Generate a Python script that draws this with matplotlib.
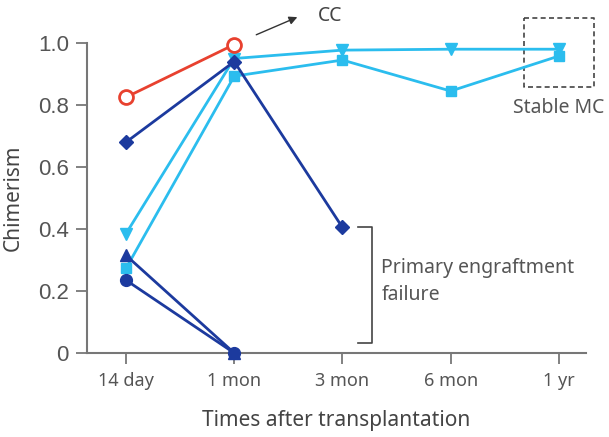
import matplotlib
matplotlib.use("Agg")
import matplotlib.pyplot as plt

plt.rcParams['font.family'] = ['Noto Sans', 'DejaVu Sans']

# time points
times = ["14 day", "1 mon", "3 mon", "6 mon", "1 yr"]

# chimerism per patient (series stop where follow-up ends)
cc_circle = [0.825, 0.995]
navy_diamond = [0.68, 0.94, 0.405]
navy_triangle = [0.315, 0.0]
navy_circle = [0.235, 0.0]
cyan_tri_down = [0.385, 0.95, 0.977, 0.98, 0.98]
cyan_square = [0.273, 0.893, 0.945, 0.845, 0.958]

RED = "#e8412f"
NAVY = "#1c3a9e"
CYAN = "#2bbdee"
GRAY = "#555555"
AXIS = "#777777"

fig = plt.figure(figsize=(6.09, 4.37), dpi=100)
ax = fig.add_axes([0.1429, 0.1922, 0.8193, 0.7094])

def xs(vals):
    return list(range(len(vals)))

kw = dict(lw=2, clip_on=False)
ax.plot(xs(cyan_tri_down), cyan_tri_down, color=CYAN, marker="v", ms=8, zorder=3, **kw)
ax.plot(xs(cyan_square), cyan_square, color=CYAN, marker="s", ms=7, zorder=3, **kw)
ax.plot(xs(navy_triangle), navy_triangle, color=NAVY, marker="^", ms=8, zorder=4, **kw)
ax.plot(xs(navy_circle), navy_circle, color=NAVY, marker="o", ms=8.5, zorder=4, **kw)
ax.plot(xs(navy_diamond), navy_diamond, color=NAVY, marker="D", ms=7, zorder=4, **kw)
ax.plot(xs(cc_circle), cc_circle, color=RED, marker="o", ms=10,
        mfc="white", mec=RED, mew=2, zorder=5, **kw)

ax.set_xlim(-0.36, 4.25)
ax.set_ylim(0, 1.0)
ax.set_xticks(range(len(times)))
ax.set_xticklabels(times, fontsize=13, color=GRAY)
ax.set_yticks([0, 0.2, 0.4, 0.6, 0.8, 1.0])
ax.set_yticklabels(["0", "0.2", "0.4", "0.6", "0.8", "1.0"],
                   fontsize=16, color=GRAY, family="Liberation Sans")
ax.tick_params(colors=AXIS, length=8, width=1.3)
ax.tick_params(axis="x", pad=6)
ax.tick_params(axis="y", pad=5)
for t in ax.get_xticklabels() + ax.get_yticklabels():
    t.set_color(GRAY)
for s in ["top", "right"]:
    ax.spines[s].set_visible(False)
for s in ["left", "bottom"]:
    ax.spines[s].set_color(AXIS)
    ax.spines[s].set_linewidth(1.5)

ax.set_xlabel("Times after transplantation", fontsize=15, color="#444444", labelpad=14)
ax.set_ylabel("Chimerism", fontsize=15, color="#444444", labelpad=10)

# CC arrow
ax.annotate("", xy=(1.607, 1.087), xytext=(1.18, 1.023), xycoords="data",
            arrowprops=dict(arrowstyle="-|>", color="#333333", lw=1, mutation_scale=12),
            annotation_clip=False)
ax.text(1.77, 1.087, "CC", fontsize=14, color="#444444", va="center", ha="left",
        clip_on=False)

# stable MC dashed box
ax.plot([3.675, 4.32, 4.32, 3.675, 3.675], [1.08, 1.08, 0.858, 0.858, 1.08],
        color="#444444", lw=1.2, ls=(0, (3, 2)), clip_on=False)
ax.text(4.0, 0.79, "Stable MC", fontsize=14, color=GRAY, ha="center", va="center",
        clip_on=False)

# primary engraftment failure bracket
ax.plot([2.14, 2.27, 2.27, 2.14], [0.406, 0.406, 0.032, 0.032],
        color="#444444", lw=1.2, clip_on=False)
ax.text(2.36, 0.23, "Primary engraftment\nfailure", fontsize=14, color=GRAY,
        ha="left", va="center", linespacing=1.45)

fig.savefig("out.png", dpi=100)
